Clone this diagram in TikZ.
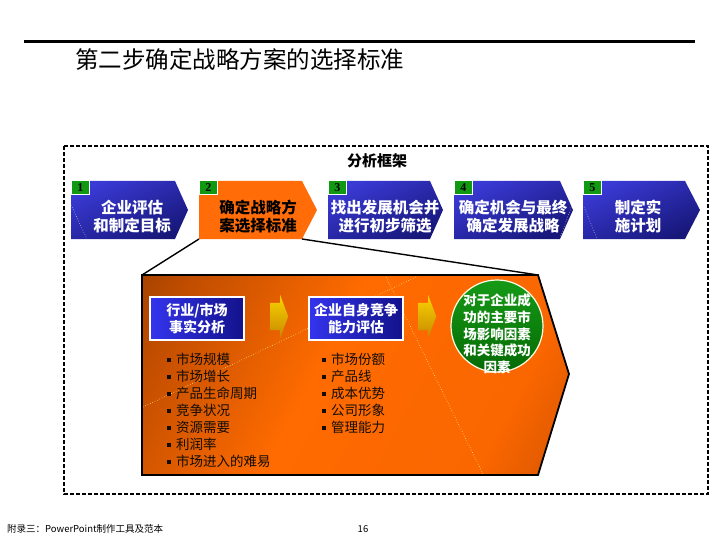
\documentclass[tikz,border=0pt]{standalone}
\usepackage{fontspec}
\setmainfont{Noto Sans CJK SC}
\newfontfamily\numfont{Liberation Serif}
\usetikzlibrary{shapes.geometric, shapes.arrows, arrows.meta, positioning, calc}
\definecolor{chevlight}{HTML}{3A3AD6}
\definecolor{chevdark}{HTML}{17177A}
\definecolor{steporange}{HTML}{FF6C08}
\definecolor{numgreen}{HTML}{119911}
\definecolor{boxlight}{HTML}{3434EE}
\definecolor{boxdark}{HTML}{12128A}
\definecolor{keygreen}{HTML}{169A16}
\definecolor{keydark}{HTML}{056A05}
\definecolor{golight}{HTML}{F8D400}
\definecolor{godark}{HTML}{C88800}
\definecolor{dotline}{HTML}{FFE890}
\pgfdeclarehorizontalshading{bigglow}{100bp}{rgb(0bp)=(0.40,0.17,0); rgb(22bp)=(0.75,0.30,0); rgb(45bp)=(1,0.42,0); rgb(72bp)=(0.98,0.40,0); rgb(100bp)=(0.66,0.25,0)}
\newcommand\sqbul{\rule[3pt]{3.5pt}{3.5pt}\hspace{5.5pt}}
\tikzset{
  chevblue/.style={top color=chevlight, bottom color=chevdark, shading angle=25},
  chevtext/.style={text=white, font=\bfseries\fontsize{15.5}{18}\selectfont, align=center, inner sep=0pt},
  numbox/.style={rectangle, draw=white, line width=0.6pt, fill=numgreen, minimum width=18pt, minimum height=14pt, inner sep=0pt, anchor=north west, font=\numfont\bfseries\fontsize{12}{12}\selectfont},
  factbox/.style={rectangle, draw=white, line width=1.5pt, left color=boxlight, right color=boxdark, minimum width=94pt, minimum height=43pt, inner sep=0pt, text=white, align=center, font=\bfseries\fontsize{14}{17}\selectfont},
  goarrow/.style={single arrow, draw=none, top color=golight, bottom color=godark, minimum height=18pt, inner xsep=0pt, inner ysep=13.5pt, single arrow head extend=8pt, single arrow tip angle=139, anchor=west},
  keycircle/.style={circle, draw=white!90!yellow, line width=1.2pt, top color=keygreen, bottom color=keydark, minimum size=92pt, inner sep=0pt},
  keytext/.style={text=white, align=center, font=\bfseries\fontsize{13.5}{16.7}\selectfont, inner sep=0pt},
  pointlist/.style={anchor=north west, align=left, inner sep=0pt, text=black!90!brown, font=\fontsize{13.5}{17}\selectfont},
  dotted line/.style={draw=dotline, line width=0.6pt, dotted},
  link/.style={draw=black, line width=1.4pt},
}
\begin{document}
\begin{tikzpicture}[x=1pt, y=-1pt]
  \useasboundingbox[fill=white] (0,0) rectangle (720,540);

  % Title
  \draw[line width=3pt] (24,42) -- (695,42);
  \node[anchor=west, inner sep=0pt, font=\fontsize{23.5}{26}\selectfont] (title) at (75,60) {第二步确定战略方案的选择标准};

  % Frame
  \draw[line width=1.5pt, dash pattern=on 4pt off 2pt] (64,146) rectangle (708,494);
  \node[font=\bfseries\fontsize{15}{17}\selectfont] (frame) at (377,161) {分析框架};

  % Steps
  \path[chevblue] (71,181) -- (175,181) -- (188,210) -- (175,239) -- (71,239) -- cycle;
  \path[fill=steporange] (199,181) -- (302,181) -- (317,210) -- (302,239) -- (199,239) -- cycle;
  \path[chevblue] (328,181) -- (430,181) -- (443,210) -- (430,239) -- (328,239) -- cycle;
  \path[chevblue] (454,181) -- (560,181) -- (573,210) -- (560,239) -- (454,239) -- cycle;
  \path[chevblue] (583,181) -- (685,181) -- (700,210) -- (685,239) -- (583,239) -- cycle;
  \draw[white, dotted, line width=0.5pt] (71,205) -- (87,239);
  \draw[white, dotted, line width=0.5pt] (572,205) -- (560,238);
  \draw[white, dotted, line width=0.5pt] (584,207) -- (597,238);
  \coordinate (s2sw) at (199,239);
  \coordinate (s2se) at (302,239);

  \node[numbox] (n1) at (71,180) {1};
  \node[numbox] (n2) at (199,180) {2};
  \node[numbox] (n3) at (328,180) {3};
  \node[numbox] (n4) at (454,180) {4};
  \node[numbox] (n5) at (583,180) {5};

  \node[chevtext] (s1) at (132,217) {企业评估\\和制定目标};
  \node[chevtext, text=black] (s2) at (258,217) {确定战略方\\案选择标准};
  \node[chevtext] (s3) at (385,217) {找出发展机会并\\进行初步筛选};
  \node[chevtext] (s4) at (513,217) {确定机会与最终\\确定发展战略};
  \node[chevtext] (s5) at (638,217) {制定实\\施计划};

  % Detail of step 2
  \path[shading=bigglow, shading angle=-28] (142,275) -- (538,275) -- (569,374) -- (538,475) -- (142,475) -- cycle;
  \draw[dotted line] (143,407) -- (420,275);
  \draw[dotted line] (385,275) -- (483,474);
  \draw[line width=1.8pt, line join=miter] (142,275) -- (538,275) -- (569,374) -- (538,475) -- (142,475) -- cycle;
  \coordinate (dnw) at (142,275);
  \coordinate (dne) at (538,275);
  \draw[link] (s2sw) -- (dnw);
  \draw[link] (s2se) -- (dne);

  \node[factbox] (market) at (197,318.5) {行业/市场\\事实分析};
  \node[goarrow] (go1) at (270,316.5) {};
  \node[factbox] (self) at (356,318.5) {企业自身竞争\\能力评估};
  \node[goarrow] (go2) at (418,316.5) {};
  \node[keycircle] (key) at (497,326) {};
  \node[keytext] (keytxt) at ([yshift=-8pt]key.center) {对于企业成\\功的主要市\\场影响因素\\和关键成功\\因素};

  \node[pointlist] (marketlist) at (167,353) {\sqbul 市场规模\\\sqbul 市场增长\\\sqbul 产品生命周期\\\sqbul 竞争状况\\\sqbul 资源需要\\\sqbul 利润率\\\sqbul 市场进入的难易};
  \node[pointlist] (selflist) at (322,353) {\sqbul 市场份额\\\sqbul 产品线\\\sqbul 成本优势\\\sqbul 公司形象\\\sqbul 管理能力};

  % Footer
  \node[anchor=west, inner sep=0pt, font=\fontsize{9.5}{11}\selectfont] (foot) at (7,529) {附录三：PowerPoint制作工具及范本};
  \node[inner sep=0pt, font=\fontsize{9.5}{11}\selectfont] (page) at (363,529) {16};
\end{tikzpicture}
\end{document}
